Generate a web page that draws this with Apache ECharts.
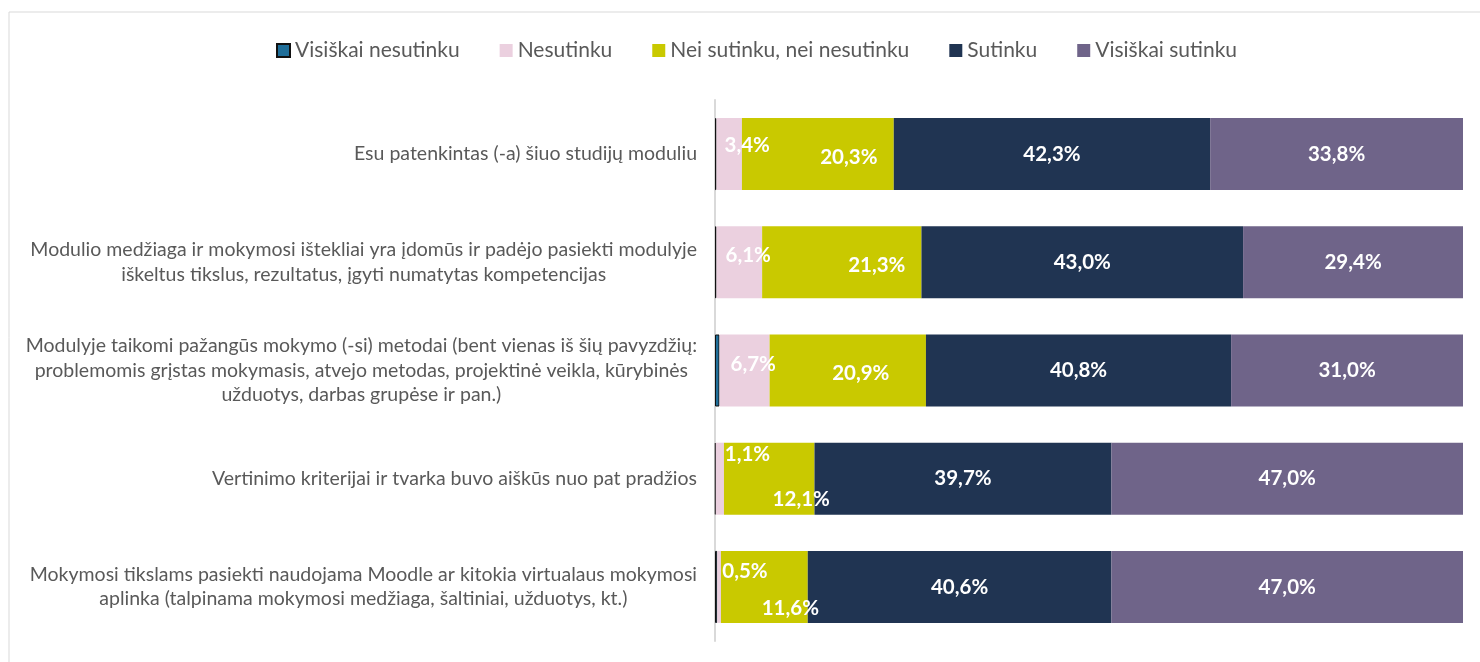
<!DOCTYPE html>
<html><head><meta charset="utf-8">
<script src="https://cdn.jsdelivr.net/npm/echarts@6/dist/echarts.min.js"></script>
<style>html,body{margin:0;padding:0;background:#fff}#c{width:1480px;height:662px}</style>
</head><body><div id="c"></div>
<script>
const categories = [
  "Esu patenkintas (-a) šiuo studijų moduliu",
  "Modulio medžiaga ir mokymosi ištekliai yra įdomūs ir padėjo pasiekti modulyje\niškeltus tikslus, rezultatus, įgyti numatytas kompetencijas",
  "Modulyje taikomi pažangūs mokymo (-si) metodai (bent vienas iš šių pavyzdžių:\nproblemomis grįstas mokymasis, atvejo metodas, projektinė veikla, kūrybinės\nužduotys, darbas grupėse ir pan.)",
  "Vertinimo kriterijai ir tvarka buvo aiškūs nuo pat pradžios",
  "Mokymosi tikslams pasiekti naudojama Moodle ar kitokia virtualaus mokymosi\naplinka (talpinama mokymosi medžiaga, šaltiniai, užduotys, kt.)"
];
const seriesNames = ["Visiškai nesutinku", "Nesutinku", "Nei sutinku, nei nesutinku", "Sutinku", "Visiškai sutinku"];
const visiskaiNesutinku = [0.2, 0.2, 0.6, 0.1, 0.3];
const nesutinku = [3.4, 6.1, 6.7, 1.1, 0.5];
const neiSutinku = [20.3, 21.3, 20.9, 12.1, 11.6];
const sutinku = [42.3, 43.0, 40.8, 39.7, 40.6];
const visiskaiSutinku = [33.8, 29.4, 31.0, 47.0, 47.0];

const colors = ["#1F6E99", "#EBD0DF", "#C9C900", "#203452", "#6F6489"];
const font = "Lato, 'Open Sans', sans-serif";
const fmt = p => p.value.toFixed(1).replace('.', ',') + '%';

// label placement tweaks (style only)
const pinkOffsets = [[3,-9],[4,-7],[6,-6],[4,-24],[0,-16]];
const yellowOffsets = [[31,3],[35,3],[13,3],[32,21],[26,21]];

function withOffsets(values, offsets, base) {
  return values.map((v, i) => ({ value: v, label: Object.assign({}, base, { offset: offsets[i] }) }));
}

const labelBase = { show: true, color: '#fff', fontWeight: 'bold', fontSize: 20.5, fontFamily: font, formatter: fmt };

const chart = echarts.init(document.getElementById('c'), null, { renderer: 'canvas' });
chart.setOption({
  animation: false,
  graphic: [{ type: 'rect', shape: { x: 9, y: 12, width: 1490, height: 700 }, style: { fill: 'none', stroke: '#d9d9d9', lineWidth: 1 }, silent: true }],
  color: colors,
  legend: {
    top: 35, left: 271, itemWidth: 13, itemHeight: 13, itemGap: 40,
    textStyle: { color: '#595959', fontSize: 21, fontFamily: font },
    data: seriesNames.map(n => ({ name: n, icon: 'rect' }))
  },
  grid: { left: 715, right: 17, top: 100, bottom: 21 },
  xAxis: { type: 'value', min: 0, max: 100, show: false },
  yAxis: {
    type: 'category', inverse: true, data: categories,
    axisLine: { show: true, lineStyle: { color: '#d9d9d9', width: 2 } },
    axisTick: { show: false },
    axisLabel: {
      margin: 18, align: 'right', lineHeight: 24.5,
      color: '#595959', fontSize: 19.5, fontFamily: font,
      formatter: v => v.split('\n').map(l => '{c|' + l + '}').join('\n'),
      rich: { c: { align: 'center', color: '#595959', fontSize: 19.5, fontFamily: font, lineHeight: 24.5 } }
    }
  },
  series: [
    { name: seriesNames[0], type: 'bar', stack: 't', barWidth: 72, data: visiskaiNesutinku,
      itemStyle: { color: colors[0], borderColor: '#111', borderWidth: 1 } },
    { name: seriesNames[1], type: 'bar', stack: 't', barWidth: 72, itemStyle: { color: colors[1] },
      data: withOffsets(nesutinku, pinkOffsets, Object.assign({ position: 'insideLeft' }, labelBase)) },
    { name: seriesNames[2], type: 'bar', stack: 't', barWidth: 72, itemStyle: { color: colors[2] },
      data: withOffsets(neiSutinku, yellowOffsets, Object.assign({ position: 'inside' }, labelBase)) },
    { name: seriesNames[3], type: 'bar', stack: 't', barWidth: 72, itemStyle: { color: colors[3] }, data: sutinku,
      label: Object.assign({ position: 'inside' }, labelBase) },
    { name: seriesNames[4], type: 'bar', stack: 't', barWidth: 72, itemStyle: { color: colors[4] }, data: visiskaiSutinku,
      label: Object.assign({ position: 'inside' }, labelBase) }
  ]
});
</script></body></html>
